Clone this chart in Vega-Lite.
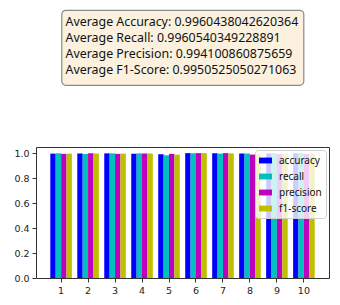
{
  "$schema": "https://vega.github.io/schema/vega-lite/v6.json",
  "autosize": {"type": "pad"},
  "padding": {"left": 13, "top": 9, "right": 5, "bottom": 5},
  "background": "white",
  "config": {"font": "DejaVu Sans", "concat": {"spacing": 62}},
  "bounds": "flush",
  "center": true,
  "resolve": {"legend": {"color": "independent"}, "scale": {"x": "independent", "y": "independent"}},
  "datasets": {
    "avg": [
      {"line": 0, "col": 0, "label": "Average Accuracy: 0.9960438042620364"},
      {"line": 1, "col": 0, "label": "Average Recall: 0.9960540349228891"},
      {"line": 2, "col": 0, "label": "Average Precision: 0.994100860875659"},
      {"line": 3, "col": 0, "label": "Average F1-Score: 0.9950525050271063"}
    ],
    "scores": [
      {"fold": 1, "metric": "accuracy", "value": 0.995}, {"fold": 1, "metric": "recall", "value": 0.998}, {"fold": 1, "metric": "precision", "value": 0.993}, {"fold": 1, "metric": "f1-score", "value": 0.995},
      {"fold": 2, "metric": "accuracy", "value": 0.996}, {"fold": 2, "metric": "recall", "value": 0.993}, {"fold": 2, "metric": "precision", "value": 0.998}, {"fold": 2, "metric": "f1-score", "value": 0.996},
      {"fold": 3, "metric": "accuracy", "value": 0.997}, {"fold": 3, "metric": "recall", "value": 0.997}, {"fold": 3, "metric": "precision", "value": 0.993}, {"fold": 3, "metric": "f1-score", "value": 0.995},
      {"fold": 4, "metric": "accuracy", "value": 0.994}, {"fold": 4, "metric": "recall", "value": 0.997}, {"fold": 4, "metric": "precision", "value": 0.996}, {"fold": 4, "metric": "f1-score", "value": 0.996},
      {"fold": 5, "metric": "accuracy", "value": 0.990}, {"fold": 5, "metric": "recall", "value": 0.982}, {"fold": 5, "metric": "precision", "value": 0.993}, {"fold": 5, "metric": "f1-score", "value": 0.987},
      {"fold": 6, "metric": "accuracy", "value": 0.999}, {"fold": 6, "metric": "recall", "value": 0.998}, {"fold": 6, "metric": "precision", "value": 0.999}, {"fold": 6, "metric": "f1-score", "value": 0.999},
      {"fold": 7, "metric": "accuracy", "value": 0.998}, {"fold": 7, "metric": "recall", "value": 0.995}, {"fold": 7, "metric": "precision", "value": 0.999}, {"fold": 7, "metric": "f1-score", "value": 0.997},
      {"fold": 8, "metric": "accuracy", "value": 0.996}, {"fold": 8, "metric": "recall", "value": 0.996}, {"fold": 8, "metric": "precision", "value": 0.987}, {"fold": 8, "metric": "f1-score", "value": 0.991},
      {"fold": 9, "metric": "accuracy", "value": 0.997}, {"fold": 9, "metric": "recall", "value": 0.998}, {"fold": 9, "metric": "precision", "value": 0.991}, {"fold": 9, "metric": "f1-score", "value": 0.995},
      {"fold": 10, "metric": "accuracy", "value": 0.998}, {"fold": 10, "metric": "recall", "value": 0.999}, {"fold": 10, "metric": "precision", "value": 0.992}, {"fold": 10, "metric": "f1-score", "value": 0.995}
    ]
  },
  "vconcat": [
    {
      "width": 242,
      "height": 75,
      "view": {"fill": "#fbf1de", "stroke": "#8a8a8a", "strokeWidth": 1.2, "cornerRadius": 4},
      "data": {"name": "avg"},
      "mark": {"type": "text", "align": "left", "baseline": "middle", "dx": 4, "fontSize": 12.4, "font": "Noto Sans", "color": "#111"},
      "encoding": {
        "x": {"field": "col", "type": "quantitative", "scale": {"domain": [0, 1]}, "axis": null},
        "y": {"field": "line", "type": "quantitative", "scale": {"domain": [-0.75, 3.9375], "reverse": true}, "axis": null},
        "text": {"field": "label"}
      }
    },
    {
      "width": 293,
      "height": 131,
      "view": {"stroke": "#333", "strokeWidth": 1},
      "data": {"name": "scores"},
      "mark": {"type": "bar"},
      "encoding": {
        "x": {"field": "fold", "type": "ordinal", "scale": {"paddingInner": 0.2, "paddingOuter": 0.53},
          "axis": {"title": null, "labelAngle": 0, "labelFontSize": 9.5, "labelColor": "#222", "tickColor": "#333", "tickSize": 4, "domain": false, "labelPadding": 3}},
        "xOffset": {"field": "metric", "type": "nominal", "sort": ["accuracy", "recall", "precision", "f1-score"], "scale": {"paddingInner": 0, "paddingOuter": 0}},
        "y": {"field": "value", "type": "quantitative", "scale": {"domain": [0, 1.048], "nice": false, "zero": true},
          "axis": {"title": null, "values": [0, 0.2, 0.4, 0.6, 0.8, 1.0], "format": ".1f", "grid": false, "labelFontSize": 9.5, "labelColor": "#222", "tickColor": "#333", "tickSize": 4, "domain": false, "labelPadding": 3}},
        "color": {"field": "metric", "type": "nominal",
          "scale": {"domain": ["accuracy", "recall", "precision", "f1-score"], "range": ["#0000ff", "#00bfbf", "#bf00bf", "#bfbf00"]},
          "legend": {"title": null, "orient": "top-right", "offset": 3, "padding": 4, "fillColor": "rgba(255,255,255,0.8)", "strokeColor": "#d0d0d0", "cornerRadius": 3,
            "symbolType": "M-1,-0.45H1V0.45H-1Z", "symbolSize": 169, "symbolStrokeWidth": 0, "symbolOpacity": 1, "labelFont": "Noto Sans", "labelFontSize": 10, "labelColor": "#111", "rowPadding": 4, "labelOffset": 7}}
      }
    }
  ]
}
